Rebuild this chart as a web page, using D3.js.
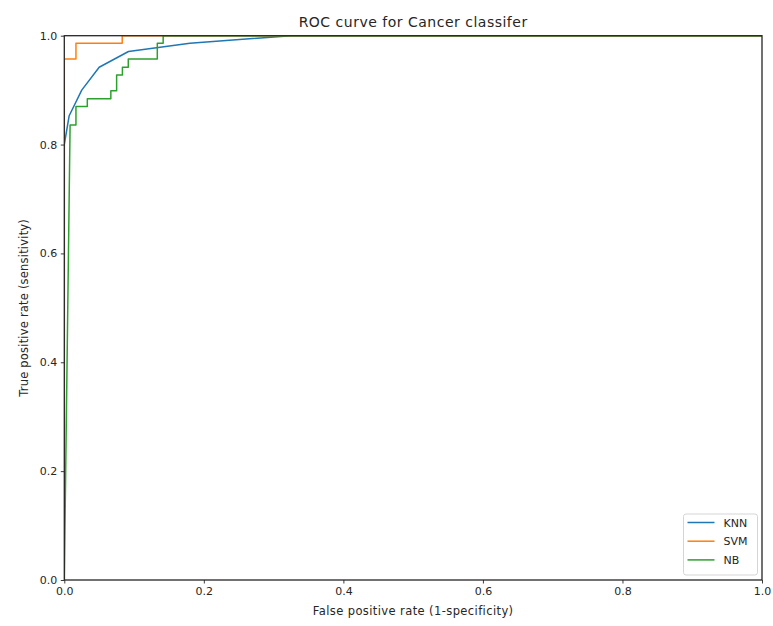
<!DOCTYPE html>
<html>
<head>
<meta charset="utf-8">
<script src="https://cdn.jsdelivr.net/npm/d3@7"></script>
<style>
  body { margin: 0; background: #fff; }
  text { font-family: "DejaVu Sans", sans-serif; fill: #262626; }
</style>
</head>
<body>
<svg id="chart" width="773" height="626"></svg>
<script>
// ---- data ----
const seriesNames = ["KNN", "SVM", "NB"];
const seriesColors = ["#1f77b4", "#ff7f0e", "#2ca02c"];
const knnFpr = [0, 0, 0.007, 0.025, 0.05, 0.092, 0.18, 0.325, 1.0];
const knnTpr = [0, 0.80, 0.853, 0.90, 0.942, 0.971, 0.986, 1.0, 1.0];
const svmFpr = [0, 0, 0.0167, 0.0167, 0.083, 0.083, 1.0];
const svmTpr = [0, 0.957, 0.957, 0.986, 0.986, 1.0, 1.0];
const nbFpr = [0, 0.0083, 0.0167, 0.0167, 0.033, 0.033, 0.0667, 0.0667, 0.075, 0.075, 0.0833, 0.0833, 0.0917, 0.0917, 0.1333, 0.1333, 0.1417, 0.1417, 1.0];
const nbTpr = [0, 0.836, 0.836, 0.870, 0.870, 0.884, 0.884, 0.899, 0.899, 0.928, 0.928, 0.942, 0.942, 0.957, 0.957, 0.986, 0.986, 1.0, 1.0];
const xTicks = [0, 0.2, 0.4, 0.6, 0.8, 1.0];
const yTicks = [0, 0.2, 0.4, 0.6, 0.8, 1.0];
const titleText = "ROC curve for Cancer classifer";
const xLabel = "False positive rate (1-specificity)";
const yLabel = "True positive rate (sensitivity)";

// ---- layout ----
const svg = d3.select("#chart");
const L = 64.3, R = 762, T = 35.7, B = 580;
const x = d3.scaleLinear().domain([0, 1]).range([L, R]);
const y = d3.scaleLinear().domain([0, 1]).range([B, T]);

const series = [
  {name: seriesNames[0], color: seriesColors[0], pts: knnFpr.map((f, i) => [f, knnTpr[i]])},
  {name: seriesNames[1], color: seriesColors[1], pts: svmFpr.map((f, i) => [f, svmTpr[i]])},
  {name: seriesNames[2], color: seriesColors[2], pts: nbFpr.map((f, i) => [f, nbTpr[i]])}
];

svg.append("defs").append("clipPath").attr("id", "clip")
  .append("rect").attr("x", L).attr("y", T).attr("width", R - L).attr("height", B - T);

const line = d3.line().x(d => x(d[0])).y(d => y(d[1]));
const g = svg.append("g").attr("clip-path", "url(#clip)");
series.forEach(s => {
  g.append("path").datum(s.pts).attr("d", line)
    .attr("fill", "none").attr("stroke", s.color).attr("stroke-width", 1.5)
    .attr("stroke-linejoin", "round");
});

// axes
const fmt = d3.format(".1f");
const xAxis = svg.append("g").attr("transform", `translate(0,${B})`)
  .call(d3.axisBottom(x).tickValues(xTicks).tickFormat(fmt).tickSize(3.5).tickPadding(3.5));
const yAxis = svg.append("g").attr("transform", `translate(${L},0)`)
  .call(d3.axisLeft(y).tickValues(yTicks).tickFormat(fmt).tickSize(3.5).tickPadding(3.5));
[xAxis, yAxis].forEach(a => {
  a.selectAll("text").attr("font-size", 11).attr("font-family", "DejaVu Sans").attr("fill", "#262626");
  a.selectAll("line").attr("stroke", "#262626").attr("stroke-width", 0.9);
  a.select(".domain").remove();
});

// frame (drawn above the lines, like matplotlib spines)
svg.append("rect").attr("x", L).attr("y", T).attr("width", R - L).attr("height", B - T)
  .attr("fill", "none").attr("stroke", "#262626").attr("stroke-width", 1.3);

// title & labels
svg.append("text").attr("x", (L + R) / 2).attr("y", 27).attr("text-anchor", "middle")
  .attr("font-size", 14).attr("letter-spacing", 0.5).text(titleText);
svg.append("text").attr("x", (L + R) / 2).attr("y", 615).attr("text-anchor", "middle")
  .attr("font-size", 11.5).attr("letter-spacing", 0.4).text(xLabel);
svg.append("text").attr("transform", `translate(28,${(T + B) / 2}) rotate(-90)`)
  .attr("text-anchor", "middle").attr("font-size", 11.5).attr("letter-spacing", 0.2).text(yLabel);

// legend
const lg = svg.append("g");
lg.append("rect").attr("x", 683.5).attr("y", 514).attr("width", 74).attr("height", 61)
  .attr("rx", 2.5).attr("fill", "#fff").attr("fill-opacity", 0.8)
  .attr("stroke", "#d0d0d0").attr("stroke-width", 0.9);
series.forEach((s, i) => {
  const yy = 522.5 + i * 18.7;
  lg.append("line").attr("x1", 687.5).attr("x2", 714.5).attr("y1", yy).attr("y2", yy)
    .attr("stroke", s.color).attr("stroke-width", 1.5);
  lg.append("text").attr("x", 723.5).attr("y", yy + 4).attr("font-size", 11).text(s.name);
});
</script>
</body>
</html>
